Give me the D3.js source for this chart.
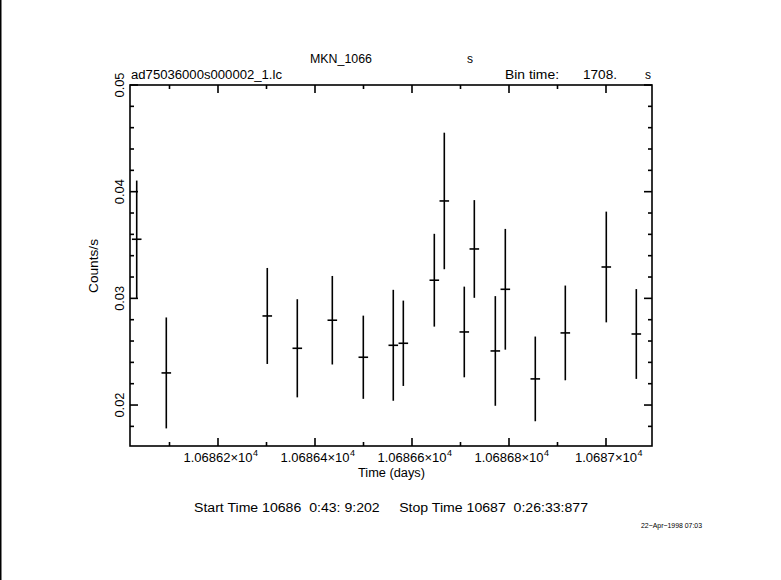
<!DOCTYPE html>
<html><head><meta charset="utf-8">
<script src="https://cdn.jsdelivr.net/npm/d3@7"></script>
<style>
html,body{margin:0;padding:0;background:#fff;}
svg text{font-family:"Liberation Sans",Arial,sans-serif;fill:#000;}
</style></head>
<body>
<svg id="c" width="781" height="580"></svg>
<script>
// Data (time in days, rate in counts/s)
const times = [10686.0324,10686.0934,10686.3016,10686.3635,10686.4357,10686.4996,10686.5614,10686.5821,10686.6460,10686.6666,10686.7078,10686.7285,10686.7718,10686.7924,10686.8542,10686.9161,10687.0006,10687.0625];
const rates = [0.03554,0.02301,0.02835,0.02532,0.02795,0.02448,0.02560,0.02579,0.03170,0.03913,0.02685,0.03463,0.02507,0.03085,0.02245,0.02676,0.03294,0.02666];
const errors = [0.00550,0.00520,0.00450,0.00460,0.00415,0.00390,0.00520,0.00400,0.00435,0.00640,0.00425,0.00458,0.00514,0.00566,0.00397,0.00444,0.00519,0.00421];
const binTime = 1708; // seconds
const xMajorTicks = [10686.2,10686.4,10686.6,10686.8,10687.0];
const xMinorTicks = [10686.1,10686.3,10686.5,10686.7,10686.9];
const xTickLabels = ["1.06862","1.06864","1.06866","1.06868","1.0687"];
const yMajorTicks = [0.02,0.03,0.04,0.05];
const yMinorTicks = [0.018,0.022,0.024,0.026,0.028,0.032,0.034,0.036,0.038,0.042,0.044,0.046,0.048];
const yTickLabels = ["0.02","0.03","0.04","0.05"];

const svg = d3.select("#c");
const L=130,R=652,T=85,B=446;
const x = d3.scaleLinear().domain([10686.01856,10687.09485]).range([L,R]);
const y = d3.scaleLinear().domain([0.01616,0.05]).range([B,T]);
const sw = 1.6;

// left edge line
svg.append("rect").attr("x",0).attr("y",0).attr("width",1.5).attr("height",580).attr("fill","#000");

// frame
svg.append("rect").attr("x",L).attr("y",T).attr("width",R-L).attr("height",B-T)
  .attr("fill","none").attr("stroke","#000").attr("stroke-width",sw);

const g = svg.append("g").attr("stroke","#000").attr("stroke-width",sw);
const MJ=8, MN=4;
function xt(vals,len){
  vals.forEach(v=>{
    g.append("line").attr("x1",x(v)).attr("x2",x(v)).attr("y1",B).attr("y2",B-len);
    g.append("line").attr("x1",x(v)).attr("x2",x(v)).attr("y1",T).attr("y2",T+len);
  });
}
function yt(vals,len){
  vals.forEach(v=>{
    g.append("line").attr("x1",L).attr("x2",L+len).attr("y1",y(v)).attr("y2",y(v));
    g.append("line").attr("x1",R).attr("x2",R-len).attr("y1",y(v)).attr("y2",y(v));
  });
}
xt(xMajorTicks,MJ); xt(xMinorTicks,MN);
yt(yMajorTicks,MJ); yt(yMinorTicks,MN);

// x tick labels
xMajorTicks.forEach((v,i)=>{
  const base = xTickLabels[i]+"\u00d710";
  const w = base.length*6.9;
  const x0 = x(v)+3-(w+6)/2;
  svg.append("text").attr("x",x0).attr("y",462).attr("font-size",12)
    .attr("textLength",w).attr("lengthAdjust","spacingAndGlyphs").text(base);
  svg.append("text").attr("x",x0+w+0.5).attr("y",456).attr("font-size",9).text("4");
});
// y tick labels (rotated)
yMajorTicks.forEach((v,i)=>{
  svg.append("text").attr("transform",`translate(124,${y(v)}) rotate(-90)`)
    .attr("text-anchor","middle").attr("font-size",12)
    .attr("textLength",25).attr("lengthAdjust","spacingAndGlyphs").text(yTickLabels[i]);
});

// error bars
const half = binTime/2/86400;
const eb = svg.append("g").attr("stroke","#000").attr("stroke-width",sw);
times.forEach((t,i)=>{
  eb.append("line").attr("x1",x(t)).attr("x2",x(t)).attr("y1",y(rates[i]-errors[i])).attr("y2",y(rates[i]+errors[i]));
  eb.append("line").attr("x1",x(t-half)).attr("x2",x(t+half)).attr("y1",y(rates[i])).attr("y2",y(rates[i]));
});

// texts
function txt(s,xx,yy,len,opts={}){
  const t=svg.append("text").attr("x",xx).attr("y",yy).attr("font-size",opts.size||12)
    .attr("text-anchor",opts.anchor||"start").style("white-space","pre").text(s);
  if(len) t.attr("textLength",len).attr("lengthAdjust","spacingAndGlyphs");
  return t;
}
txt("MKN_1066",310,63,62);
txt("s",467,63);
txt("ad75036000s000002_1.lc",131,79,151);
txt("Bin time:",505,79,54);
txt("1708.",583,79,34);
txt("s",645,79);
txt("Time (days)",358,477,67);
svg.append("text").attr("transform","translate(98,266) rotate(-90)").attr("text-anchor","middle")
  .attr("font-size",12).attr("textLength",54).attr("lengthAdjust","spacingAndGlyphs").text("Counts/s");
txt("Start Time 10686  0:43: 9:202     Stop Time 10687  0:26:33:877",194,512,394);
txt("22\u2212Apr\u22121998 07:03",641,528,61,{size:7.5});
</script>
</body></html>
